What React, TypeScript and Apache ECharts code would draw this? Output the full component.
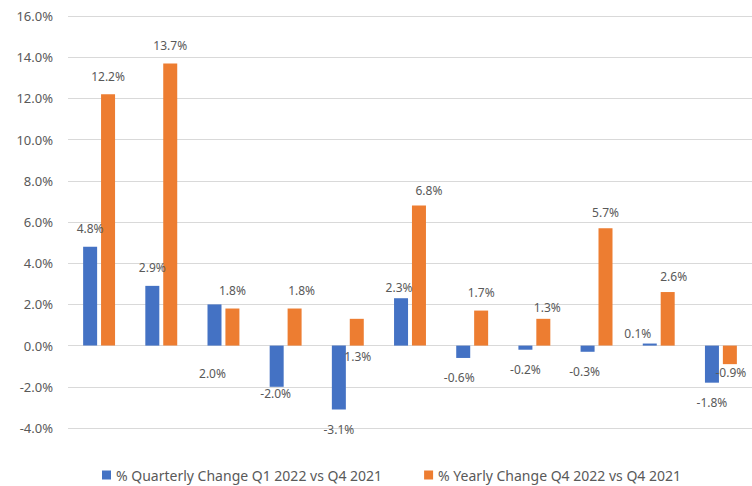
import React, { useEffect, useRef } from "react";
import * as echarts from "echarts";

const categories = ["1", "2", "3", "4", "5", "6", "7", "8", "9", "10", "11"];
const quarterlyName = "% Quarterly Change Q1 2022 vs Q4 2021";
const yearlyName = "% Yearly Change Q4 2022 vs Q4 2021";
const quarterly = [4.8, 2.9, 2.0, -2.0, -3.1, 2.3, -0.6, -0.2, -0.3, 0.1, -1.8];
const yearly = [12.2, 13.7, 1.8, 1.8, 1.3, 6.8, 1.7, 1.3, 5.7, 2.6, -0.9];

// label placement tweaks (style only), [dx, dy] per item
const quarterlyLabelOffsets: [number, number][] = [
  [0, 0], [0, 0], [-2, 87], [-1, -13], [0, 0], [-2, 7], [-4, 0], [0, 0], [-3, 0], [-12, 8], [0, 0],
];
const yearlyLabelOffsets: [number, number][] = [
  [0, 0], [0, 0], [0, 0], [7, 0], [1, 56], [10, 3], [0, 0], [4, 7], [0, 2], [6, 2], [1, -12],
];

const FONT = "Noto Sans";
const TEXT = "#595959";

function buildData(values: number[], offsets: [number, number][]) {
  return values.map((v, i) => ({
    value: v,
    label: {
      position: v >= 0 ? "top" : "bottom",
      distance: v >= 0 ? 12 : 14,
      offset: offsets[i],
    },
  }));
}

export default function App() {
  const ref = useRef<HTMLDivElement>(null);
  useEffect(() => {
    if (!ref.current) return;
    const chart = echarts.init(ref.current, undefined, { renderer: "svg" });
    const labelCfg = {
      show: true,
      formatter: (p: any) => Number(p.value).toFixed(1) + "%",
      color: TEXT,
      fontSize: 12,
      fontFamily: FONT,
    };
    chart.setOption({
      animation: false,
      backgroundColor: "#ffffff",
      textStyle: { fontFamily: FONT },
      grid: { left: 68, top: 16, width: 697, height: 412, containLabel: false },
      legend: {
        left: 102,
        top: 468,
        itemWidth: 9,
        itemHeight: 9,
        itemGap: 42,
        padding: 0,
        icon: "rect",
        textStyle: { color: TEXT, fontSize: 14, fontFamily: FONT },
        data: [quarterlyName, yearlyName],
      },
      xAxis: {
        type: "category",
        data: categories,
        axisLine: { show: false },
        axisTick: { show: false },
        axisLabel: { show: false },
        splitLine: { show: false },
      },
      yAxis: {
        type: "value",
        min: -4,
        max: 16,
        interval: 2,
        axisLine: { show: false },
        axisTick: { show: false },
        axisLabel: {
          formatter: (v: number) => v.toFixed(1) + "%",
          color: TEXT,
          fontSize: 13,
          fontFamily: FONT,
          margin: 15,
        },
        splitLine: { lineStyle: { color: "#d9d9d9", width: 1 } },
      },
      series: [
        {
          name: quarterlyName,
          type: "bar",
          barWidth: 14,
          barGap: "28%",
          itemStyle: { color: "#4472C4" },
          label: labelCfg,
          data: buildData(quarterly, quarterlyLabelOffsets),
        },
        {
          name: yearlyName,
          type: "bar",
          barWidth: 14,
          barGap: "28%",
          itemStyle: { color: "#ED7D31" },
          label: labelCfg,
          data: buildData(yearly, yearlyLabelOffsets),
        },
      ],
    });
    return () => chart.dispose();
  }, []);
  return (
    <div
      ref={ref}
      style={{ position: "fixed", left: 0, top: 0, width: 752, height: 486, overflow: "hidden" }}
    />
  );
}
